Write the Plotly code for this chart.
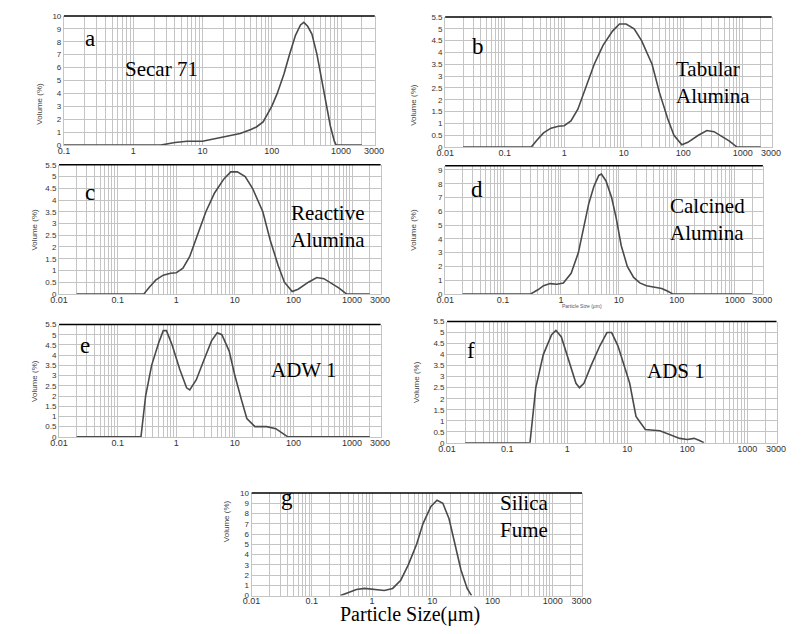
import math

import plotly.graph_objects as go

W, H = 801, 634

# ---- data ----
a_size = [0.1, 2.5, 4, 6, 10, 15, 25, 35, 50, 60, 75, 90, 100, 120, 150, 180, 220, 260, 290, 330, 380, 450, 530, 620, 700, 800, 850, 2000]
a_vol = [0, 0, 0.2, 0.3, 0.3, 0.5, 0.7, 0.9, 1.2, 1.4, 1.8, 2.5, 3, 4, 5.5, 7, 8.5, 9.3, 9.5, 9.2, 8.6, 7, 5, 3, 1.5, 0.3, 0, 0]

b_size = [0.02, 0.28, 0.35, 0.45, 0.6, 0.8, 1, 1.3, 1.7, 2.3, 3.2, 4.5, 6.5, 8.5, 11, 15, 20, 30, 40, 55, 70, 95, 120, 180, 250, 330, 450, 600, 800, 2000]
b_vol = [0, 0, 0.3, 0.6, 0.8, 0.88, 0.9, 1.1, 1.6, 2.5, 3.5, 4.3, 4.9, 5.2, 5.2, 5.0, 4.5, 3.5, 2.3, 1.2, 0.5, 0.1, 0.2, 0.5, 0.7, 0.65, 0.45, 0.25, 0, 0]

c_size = b_size
c_vol = b_vol

d_size = [0.02, 0.3, 0.4, 0.5, 0.65, 0.85, 1.1, 1.5, 2, 2.5, 3, 3.7, 4.5, 5, 6, 7.5, 9, 11, 14, 18, 23, 30, 40, 55, 70, 85, 2000]
d_vol = [0, 0, 0.3, 0.6, 0.75, 0.7, 0.8, 1.5, 3, 5, 6.5, 7.8, 8.6, 8.7, 8.2, 7, 5.5, 3.5, 2, 1.2, 0.8, 0.6, 0.5, 0.4, 0.2, 0, 0]

e_size = [0.02, 0.25, 0.3, 0.38, 0.5, 0.6, 0.68, 0.85, 1.15, 1.5, 1.7, 2.2, 3, 4, 5, 6, 8, 10, 13, 16, 22, 35, 50, 65, 80, 2000]
e_vol = [0, 0, 2, 3.5, 4.6, 5.2, 5.2, 4.5, 3.3, 2.4, 2.3, 2.8, 3.8, 4.7, 5.1, 5.0, 4.2, 3, 1.8, 0.9, 0.5, 0.5, 0.4, 0.2, 0, 0]

f_size = [0.02, 0.24, 0.3, 0.4, 0.55, 0.65, 0.8, 1.05, 1.4, 1.6, 1.9, 2.5, 3.5, 4.6, 5.5, 7, 9, 11, 14, 20, 35, 50, 75, 100, 130, 160, 190]
f_vol = [0, 0, 2.5, 4, 4.9, 5.1, 4.8, 3.8, 2.7, 2.5, 2.7, 3.5, 4.4, 5.0, 5.0, 4.4, 3.5, 2.7, 1.2, 0.6, 0.55, 0.4, 0.2, 0.15, 0.2, 0.1, 0]

g_size = [0.3, 0.4, 0.55, 0.75, 1.2, 1.6, 2.2, 3, 4, 5.5, 7, 9.5, 12, 15, 19, 24, 30, 38, 45]
g_vol = [0, 0.3, 0.6, 0.7, 0.55, 0.5, 0.7, 1.5, 3, 5, 7, 8.7, 9.3, 9.0, 7.5, 5, 2.5, 0.7, 0]

y_half = [i * 0.5 for i in range(12)]
y_ten = list(range(11))
y_nine = list(range(10))

# panel: letter, name, sizes, volumes, x-start, y-ticks, pixel box (left, right, top, bottom), letter pos, name pos
PANELS = [
    ('a', 'Secar 71', a_size, a_vol, 0.1, y_ten, (48, 366, 4, 135), (68, 27), (108, 58)),
    ('b', 'Tabular<br>Alumina', b_size, b_vol, 0.01, y_half, (438, 772, 5, 137), (463, 35), (672, 72)),
    ('c', 'Reactive<br>Alumina', c_size, c_vol, 0.01, y_half, (43, 372, 155, 286), (68, 183), (278, 218)),
    ('d', 'Calcined<br>Alumina', d_size, d_vol, 0.01, y_nine, (438, 763, 156, 286), (462, 180), (666, 210)),
    ('e', 'ADW 1', e_size, e_vol, 0.01, y_half, (43, 372, 317, 431), (62, 338), (258, 363)),
    ('f', 'ADS 1', f_size, f_vol, 0.01, y_half, (440, 777, 314, 437), (458, 343), (642, 364)),
    ('g', 'Silica<br>Fume', g_size, g_vol, 0.01, y_ten, (240, 578, 488, 592), (268, 492), (492, 512)),
]

SERIF = 'Liberation Serif'
SANS = 'Liberation Sans'
GRID = '#c4c4c4'
LINE = '#4a4a4a'


def log_ticks(start):
    vals, text = [], []
    d = start
    while d < 3000:
        for m in range(1, 10):
            v = d * m
            if v >= 3000:
                break
            vals.append(v)
            text.append(f'{v:g}' if m == 1 else '')
        d *= 10
    vals.append(3000)
    text.append('3000')
    return vals, text


fig = go.Figure()
shapes = []
annotations = []
for i, (letter, name, xs, ys, x0, yt, box, letter_pos, name_pos) in enumerate(PANELS):
    n = '' if i == 0 else str(i + 1)
    left, right, top, bottom = box
    fig.add_trace(go.Scatter(x=xs, y=ys, mode='lines', xaxis='x' + n, yaxis='y' + n,
                             line=dict(color=LINE, width=1.6), showlegend=False,
                             cliponaxis=False))
    tv, tt = log_ticks(x0)
    fig.update_layout({
        'xaxis' + n: dict(domain=[left / W, right / W], anchor='y' + n, type='log',
                          range=[math.log10(x0), math.log10(3000) + 0.01],
                          tickvals=tv, ticktext=tt, showgrid=True, gridcolor=GRID,
                          gridwidth=1, ticks='', showline=True, linecolor=GRID,
                          ticklabelstandoff=-3,
                          tickfont=dict(family=SANS, size=9, color='#333'), zeroline=False),
        'yaxis' + n: dict(domain=[1 - bottom / H, 1 - top / H], anchor='x' + n,
                          range=[0, yt[-1] + (0.3 if yt[-1] == 9 else 0)],
                          tickvals=yt, ticktext=[f'{v:g}' for v in yt],
                          showgrid=True, gridcolor=GRID, gridwidth=1, ticks='',
                          showline=True, linecolor=GRID, mirror=True, zeroline=False,
                          tickfont=dict(family=SANS, size=8, color='#333')),
    })
    shapes.append(dict(type='line', xref='x' + n + ' domain', yref='y' + n + ' domain',
                       x0=0, x1=1, y0=1, y1=1, line=dict(color='black', width=1.5)))
    annotations.append(dict(text='Volume (%)', textangle=-90, xref='paper', yref='paper',
                            x=(left - 32) / W, y=1 - (top + bottom) / 2 / H, showarrow=False,
                            font=dict(family=SANS, size=8, color='#444')))
    annotations.append(dict(text=letter, xref='paper', yref='paper', x=letter_pos[0] / W,
                            y=1 - letter_pos[1] / H, xanchor='left', yanchor='middle',
                            showarrow=False, font=dict(family=SERIF, size=23, color='black')))
    annotations.append(dict(text=name, xref='paper', yref='paper', x=name_pos[0] / W,
                            y=1 - name_pos[1] / H, xanchor='left', yanchor='middle', align='left',
                            showarrow=False, font=dict(family=SERIF, size=21, color='black')))

annotations.append(dict(text='Particle Size (μm)', xref='paper', yref='paper', x=600 / W,
                        y=1 - 298 / H, showarrow=False, font=dict(family=SANS, size=5, color='#555')))
annotations.append(dict(text='Particle Size(μm)', xref='paper', yref='paper', x=402 / W,
                        y=1 - 625 / H, showarrow=False, font=dict(family=SERIF, size=20, color='black')))

fig.update_layout(width=W, height=H, margin=dict(l=0, r=0, t=0, b=0),
                  paper_bgcolor='white', plot_bgcolor='white',
                  shapes=shapes, annotations=annotations)
fig.write_html("out.html")
